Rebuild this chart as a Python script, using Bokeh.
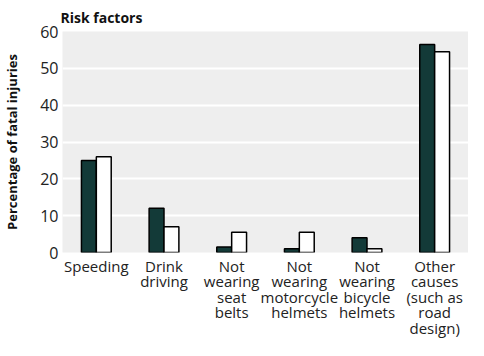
from bokeh.plotting import figure
from bokeh.models import FactorRange
from bokeh.transform import dodge
from bokeh.embed import file_html
from bokeh.resources import INLINE
from bokeh.models import ColumnDataSource

categories = ["Speeding", "Drink\ndriving", "Not\nwearing\nseat\nbelts",
              "Not\nwearing\nmotorcycle\nhelmets", "Not\nwearing\nbicycle\nhelmets",
              "Other\ncauses\n(such as\nroad\ndesign)"]
series_a = [25, 12, 1.5, 1, 4, 56.5]
series_b = [26, 7, 5.5, 5.5, 1, 54.5]
y_ticks = [0, 10, 20, 30, 40, 50, 60]

src = ColumnDataSource(dict(cat=categories, a=series_a, b=series_b))

FONT = "Open Sans"
p = figure(width=468, height=340, x_range=FactorRange(*categories, range_padding=0),
           y_range=(0, 60), output_backend="svg", toolbar_location=None,
           min_border_left=53, min_border_right=0, min_border_top=4, min_border_bottom=0)

p.vbar(x=dodge("cat", -0.11, range=p.x_range), top="a", width=0.22, source=src,
       fill_color="#133a38", line_color="#000000", line_width=1.5)
p.vbar(x=dodge("cat", 0.11, range=p.x_range), top="b", width=0.22, source=src,
       fill_color="#ffffff", line_color="#000000", line_width=1.5)

p.background_fill_color = "#eeeeee"
p.border_fill_color = "#ffffff"
p.outline_line_color = None

p.xgrid.grid_line_color = None
p.ygrid.grid_line_color = "#ffffff"
p.ygrid.grid_line_width = 2
p.yaxis.ticker = y_ticks

p.title.text = "Risk factors"
p.title.text_font = FONT
p.title.text_font_style = "bold"
p.title.text_font_size = "14px"
p.title.text_color = "#111111"
p.title.align = "left"
p.title.offset = -2

for ax in (p.xaxis[0], p.yaxis[0]):
    ax.axis_line_color = None
    ax.major_tick_line_color = None
    ax.minor_tick_line_color = None
    ax.major_tick_out = 0
    ax.major_tick_in = 0
    ax.major_label_text_font = FONT
    ax.major_label_text_color = "#222222"

p.yaxis.major_label_text_font_size = "16px"
p.xaxis.major_label_text_font_size = "15px"
p.xaxis.major_label_text_line_height = 0.78
p.xaxis.major_label_standoff = 3
p.yaxis.major_label_standoff = 4
p.yaxis.axis_label = "Percentage of fatal injuries"
p.yaxis.axis_label_text_font = FONT
p.yaxis.axis_label_text_font_style = "bold"
p.yaxis.axis_label_text_font_size = "13px"
p.yaxis.axis_label_text_color = "#111111"
p.yaxis.axis_label_standoff = 16

open("out.html", "w").write(file_html(p, INLINE))
